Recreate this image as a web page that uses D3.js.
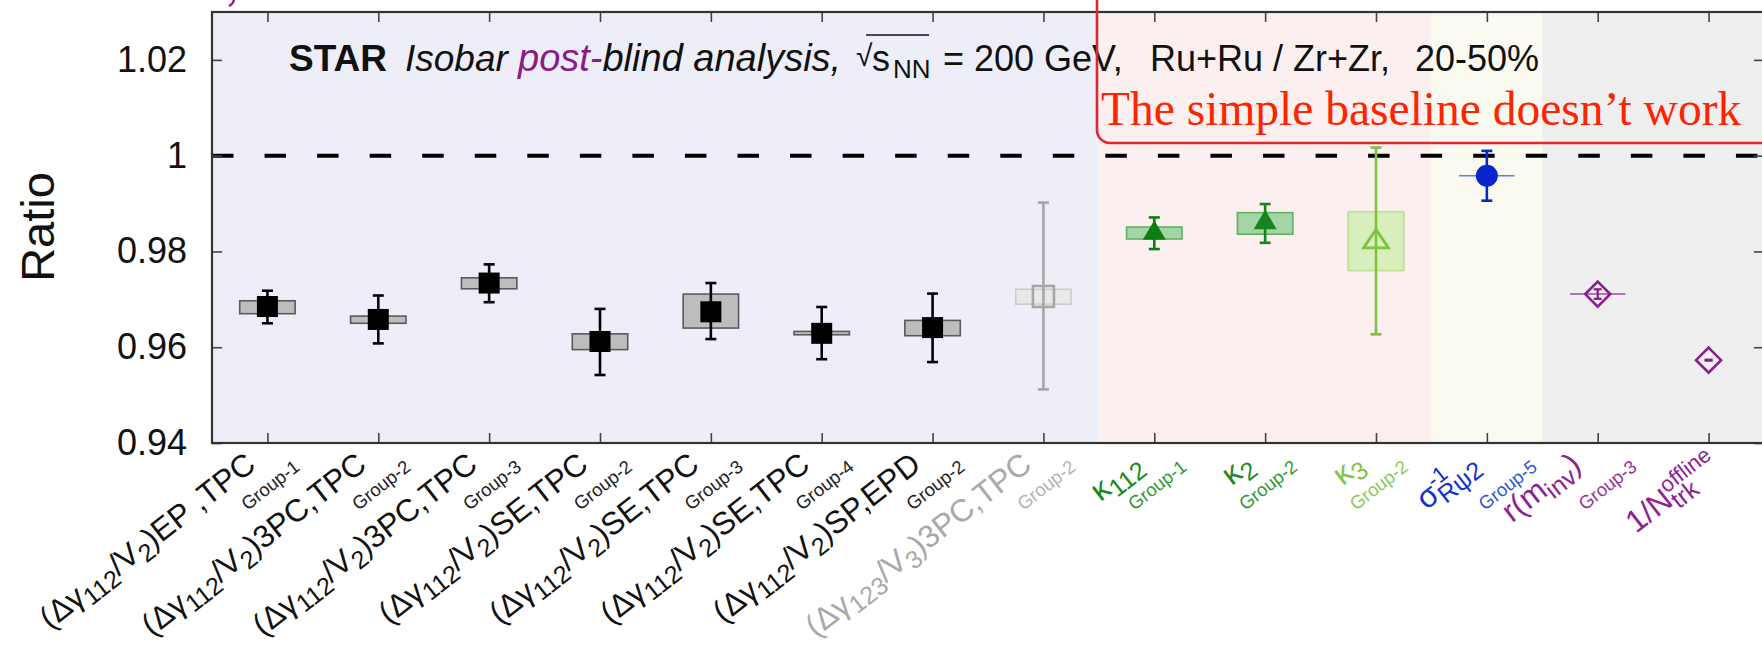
<!DOCTYPE html>
<html>
<head>
<meta charset="utf-8">
<script src="https://cdn.jsdelivr.net/npm/d3@7"></script>
<style>
  html, body { margin: 0; padding: 0; background: #fff; overflow: hidden; }
  svg { display: block; }
</style>
</head>
<body>
<svg id="chart" width="1762" height="650"></svg>
<script>
// ---- data ---------------------------------------------------------------
const categories = [
  "g112_EP_TPC_G1", "g112_3PC_TPC_G2", "g112_3PC_TPC_G3", "g112_SE_TPC_G2",
  "g112_SE_TPC_G3", "g112_SE_TPC_G4", "g112_SP_EPD_G2", "g123_3PC_TPC_G2",
  "kappa112_G1", "kappa2_G2", "kappa3_G2", "sigmaR_G5", "r_minv_G3", "inv_Ntrk"
];
const values   = [0.9685, 0.9658, 0.9734, 0.9612, 0.9674, 0.9629, 0.9641, 0.9706, 0.9838, 0.9860, 0.9821, 0.9958, 0.9711, 0.9573];
const statLow  = [0.9650, 0.9608, 0.9694, 0.9542, 0.9617, 0.9575, 0.9569, 0.9512, 0.9805, 0.9818, 0.9627, 0.9906, 0.9701, 0.9572];
const statHigh = [0.9718, 0.9708, 0.9773, 0.9680, 0.9734, 0.9684, 0.9712, 0.9902, 0.9871, 0.9899, 1.0017, 1.0010, 0.9721, 0.9574];
const sysLow   = [0.9670, 0.9650, 0.9722, 0.9595, 0.9640, 0.9626, 0.9624, 0.9690, 0.9826, 0.9836, 0.9760, 0.9958, 0.9711, null];
const sysHigh  = [0.9697, 0.9665, 0.9745, 0.9628, 0.9711, 0.9633, 0.9656, 0.9721, 0.9851, 0.9881, 0.9883, 0.9958, 0.9711, null];

const yTicks      = [0.94, 0.96, 0.98, 1.00, 1.02];
const yTickLabels = ["0.94", "0.96", "0.98", "1", "1.02"];

// tick label pieces: [text, kind]; "*" = stacked on the previous piece
const labelParts = [
  [["(Δγ", ""], ["112", "sub"], ["/V", ""], ["2", "sub"], [")EP ,TPC", ""]],
  [["(Δγ", ""], ["112", "sub"], ["/V", ""], ["2", "sub"], [")3PC,TPC", ""]],
  [["(Δγ", ""], ["112", "sub"], ["/V", ""], ["2", "sub"], [")3PC,TPC", ""]],
  [["(Δγ", ""], ["112", "sub"], ["/V", ""], ["2", "sub"], [")SE,TPC", ""]],
  [["(Δγ", ""], ["112", "sub"], ["/V", ""], ["2", "sub"], [")SE,TPC", ""]],
  [["(Δγ", ""], ["112", "sub"], ["/V", ""], ["2", "sub"], [")SE,TPC", ""]],
  [["(Δγ", ""], ["112", "sub"], ["/V", ""], ["2", "sub"], [")SP,EPD", ""]],
  [["(Δγ", ""], ["123", "sub"], ["/V", ""], ["3", "sub"], [")3PC,TPC", ""]],
  [["κ", ""], ["112", "sub"]],
  [["κ", ""], ["2", "sub"]],
  [["κ", ""], ["3", "sub"]],
  [["σ", ""], ["-1", "sup"], ["Rψ2", "sub*"]],
  [["r(m", ""], ["inv", "sub"], [")", ""]],
  [["1/N", ""], ["trk", "sub"], ["offline", "sup*"]]
];
const groupTags = ["Group-1", "Group-2", "Group-3", "Group-2", "Group-3", "Group-4", "Group-2",
                   "Group-2", "Group-1", "Group-2", "Group-2", "Group-5", "Group-3", ""];

// background bands (in category units)
const bandStart  = [-0.5, 7.5, 10.5, 11.5];
const bandEnd    = [7.5, 10.5, 11.5, 13.5];
const bandColors = ["#eeeef9", "#fcefef", "#fafaf1", "#efefef"];

// ---- styles -------------------------------------------------------------
const markerShape = ["square", "square", "square", "square", "square", "square", "square",
                     "openSquare", "triangle", "triangle", "openTriangle", "circle", "openDiamond", "openDiamond"];
const markerColor = ["#000", "#000", "#000", "#000", "#000", "#000", "#000",
                     "#a6a6a6", "#0b7d12", "#17851d", "#7fc241", "#0a24cc", "#8a1c8c", "#8a1c8c"];
const boxFill   = ["#bdbdbd", "#bdbdbd", "#bdbdbd", "#bdbdbd", "#bdbdbd", "#bdbdbd", "#bdbdbd",
                   "#e8e8e8", "#a4d5a4", "#a4d5a4", "#d8eebd", null, null, null];
const boxStroke = ["#5a5a5a", "#5a5a5a", "#5a5a5a", "#5a5a5a", "#5a5a5a", "#5a5a5a", "#5a5a5a",
                   "#cdcdcd", "#62b062", "#62b062", "#bbdf95", "#5d7de0", "#a54aa5", null];
const labelColor = ["#111", "#111", "#111", "#111", "#111", "#111", "#111",
                    "#a9a9a9", "#158a18", "#1f8a25", "#82c346", "#1233cf", "#8e2390", "#8e2390"];
const tagColor   = ["#222", "#222", "#222", "#222", "#222", "#222", "#222",
                    "#b3b3b3", "#2e9a33", "#2e9a33", "#8dc957", "#2f56d8", "#97339a", "#97339a"];

const sans  = "'Liberation Sans', Arial, Helvetica, sans-serif";
const serif = "'Liberation Serif', 'Times New Roman', Times, serif";

// ---- scales ------------------------------------------------------------
const svg = d3.select("#chart");
const x = d3.scaleLinear().domain([-0.5, 13.5]).range([212, 1764]);
const y = d3.scaleLinear().domain([0.94, 1.03]).range([443, 12]);
const halfBox = x(0.25) - x(0);

// ---- background bands -------------------------------------------------
svg.append("g").selectAll("rect")
  .data(bandStart)
  .join("rect")
  .attr("x", (d) => x(d))
  .attr("width", (d, i) => x(bandEnd[i]) - x(d))
  .attr("y", y(1.03))
  .attr("height", y(0.94) - y(1.03))
  .attr("fill", (d, i) => bandColors[i]);

// ---- reference line at unity ------------------------------------------
svg.append("line")
  .attr("x1", x(-0.5)).attr("x2", x(13.5))
  .attr("y1", y(1)).attr("y2", y(1))
  .attr("stroke", "#000").attr("stroke-width", 4)
  .attr("stroke-dasharray", "21.5 31.05");

// ---- axes (ticks on all four sides, pointing inward) ------------------
function styleAxis(g) {
  g.select(".domain").remove();
  g.selectAll(".tick line").attr("stroke", "#444").attr("stroke-width", 1.6);
}
const catIdx = d3.range(categories.length);
svg.append("g").attr("transform", `translate(0,${y(0.94)})`)
  .call(d3.axisBottom(x).tickValues(catIdx).tickSize(-10).tickSizeOuter(0).tickFormat(""))
  .call(styleAxis);
svg.append("g").attr("transform", `translate(0,${y(1.03)})`)
  .call(d3.axisTop(x).tickValues(catIdx).tickSize(-10).tickSizeOuter(0).tickFormat(""))
  .call(styleAxis);
svg.append("g").attr("transform", `translate(${x(-0.5)},0)`)
  .call(d3.axisLeft(y).tickValues(yTicks).tickSize(-10).tickSizeOuter(0).tickPadding(25)
        .tickFormat((d, i) => yTickLabels[i]))
  .call(styleAxis)
  .call((g) => g.selectAll(".tick text")
        .attr("font-family", sans).attr("font-size", 36).attr("fill", "#111"));
svg.append("g").attr("transform", `translate(${x(13.5)},0)`)
  .call(d3.axisRight(y).tickValues(yTicks).tickSize(-10).tickSizeOuter(0).tickFormat(""))
  .call(styleAxis);

// frame
svg.append("rect")
  .attr("x", x(-0.5)).attr("y", y(1.03))
  .attr("width", x(13.5) - x(-0.5)).attr("height", y(0.94) - y(1.03))
  .attr("fill", "none").attr("stroke", "#333").attr("stroke-width", 2.2);

// y-axis title
svg.append("text")
  .attr("transform", `translate(54,227) rotate(-90)`)
  .attr("text-anchor", "middle")
  .attr("font-family", sans).attr("font-size", 47).attr("fill", "#111")
  .text("Ratio");

// ---- systematic boxes -------------------------------------------------
const plot = svg.append("g");
catIdx.forEach((i) => {
  if (sysLow[i] === null) return;
  if (boxFill[i]) {
    plot.append("rect")
      .attr("x", x(i) - halfBox).attr("width", 2 * halfBox)
      .attr("y", y(sysHigh[i])).attr("height", Math.max(1.5, y(sysLow[i]) - y(sysHigh[i])))
      .attr("fill", boxFill[i]).attr("stroke", boxStroke[i]).attr("stroke-width", 1.6);
  } else {
    plot.append("line")
      .attr("x1", x(i) - halfBox).attr("x2", x(i) + halfBox)
      .attr("y1", y(values[i])).attr("y2", y(values[i]))
      .attr("stroke", boxStroke[i]).attr("stroke-width", 1.6);
  }
});

// ---- statistical error bars ------------------------------------------
catIdx.forEach((i) => {
  const c = markerColor[i];
  const capW = i >= 12 ? 4 : 5.5;
  const g = plot.append("g").attr("stroke", c).attr("stroke-width", i >= 12 ? 2.2 : 2.6);
  g.append("line").attr("x1", x(i)).attr("x2", x(i)).attr("y1", y(statLow[i])).attr("y2", y(statHigh[i]));
  [statLow[i], statHigh[i]].forEach((v) => {
    g.append("line").attr("x1", x(i) - capW).attr("x2", x(i) + capW).attr("y1", y(v)).attr("y2", y(v));
  });
});

// ---- markers ----------------------------------------------------------
catIdx.forEach((i) => {
  const cx = x(i), cy = y(values[i]), c = markerColor[i];
  switch (markerShape[i]) {
    case "square":
      plot.append("rect").attr("x", cx - 10.5).attr("y", cy - 10.5)
        .attr("width", 21).attr("height", 21).attr("fill", c);
      break;
    case "openSquare":
      plot.append("rect").attr("x", cx - 10.5).attr("y", cy - 10.5)
        .attr("width", 21).attr("height", 21)
        .attr("fill", "none").attr("stroke", c).attr("stroke-width", 2.6);
      break;
    case "triangle":
      plot.append("path")
        .attr("d", `M${cx},${cy - 13}L${cx + 11.5},${cy + 6.5}L${cx - 11.5},${cy + 6.5}Z`)
        .attr("fill", c);
      break;
    case "openTriangle":
      plot.append("path")
        .attr("d", `M${cx},${cy - 12}L${cx + 12.5},${cy + 6.5}L${cx - 12.5},${cy + 6.5}Z`)
        .attr("fill", "none").attr("stroke", c).attr("stroke-width", 2.8).attr("stroke-linejoin", "miter");
      break;
    case "circle":
      plot.append("circle").attr("cx", cx).attr("cy", cy).attr("r", 11).attr("fill", c);
      break;
    case "openDiamond":
      plot.append("path")
        .attr("d", `M${cx},${cy - 12.5}L${cx + 12.5},${cy}L${cx},${cy + 12.5}L${cx - 12.5},${cy}Z`)
        .attr("fill", "none").attr("stroke", c).attr("stroke-width", 2.6);
      break;
  }
});

// ---- category labels (rotated) ----------------------------------------
const labelAngle = -38;
// per-label horizontal nudges (screen px) of the main text end and of the group tag
const mainNudge = [0, 0, 0, 0, 0, 0, 0, 0, 0, 0, 0, 4, -5, 22];
const tagNudge  = [0, 0, 0, 0, 0, 0, 0, 0, 0, 0, 0, 18, 7, 0];
const labels = svg.append("g").attr("font-family", sans);
catIdx.forEach((i) => {
  const t = labels.append("text")
    .attr("transform", `translate(${x(i) - 10 + mainNudge[i]},468) rotate(${labelAngle})`)
    .attr("text-anchor", "end").attr("fill", labelColor[i]);
  let shift = 0, prevLen = 0;
  labelParts[i].forEach(([txt, kind]) => {
    let target = 0, size = 31.5;
    if (kind.startsWith("sub")) { target = 7; size = 25; }
    if (kind.startsWith("sup")) { target = -13; size = 22; }
    const ts = t.append("tspan").text(txt).attr("font-size", size).attr("dy", target - shift);
    shift = target;
    if (kind.endsWith("*")) ts.attr("dx", -prevLen);
    prevLen = ts.node().getComputedTextLength();
  });
  if (groupTags[i]) {
    labels.append("text")
      .attr("transform", `translate(${x(i) - 20 + tagNudge[i]},511) rotate(${labelAngle})`)
      .attr("font-size", 18.5).attr("fill", tagColor[i])
      .text(groupTags[i]);
  }
});

// ---- header line ------------------------------------------------------
const head = svg.append("text")
  .attr("y", 71).attr("font-family", sans).attr("font-size", 36).attr("fill", "#111");
head.append("tspan").attr("x", 289).attr("font-weight", "bold").attr("font-size", 37).text("STAR");
head.append("tspan").attr("x", 405).attr("font-style", "italic").attr("font-size", 37).text("Isobar");
head.append("tspan").attr("x", 518).attr("font-style", "italic").attr("font-size", 38).attr("fill", "#8b1a8b").text("post-");
head.append("tspan").attr("font-style", "italic").attr("font-size", 38).text("blind analysis,");
head.append("tspan").attr("x", 856).attr("font-size", 30).attr("y", 66).text("√");
head.append("tspan").attr("x", 872).attr("y", 71).text("s");
head.append("tspan").attr("x", 893).attr("y", 78).attr("font-size", 26).text("NN");
head.append("tspan").attr("x", 943).attr("y", 71).text("= 200 GeV,");
head.append("tspan").attr("x", 1150).text("Ru+Ru / Zr+Zr,");
head.append("tspan").attr("x", 1415).text("20-50%");
svg.append("line")
  .attr("x1", 866).attr("x2", 929).attr("y1", 35).attr("y2", 35)
  .attr("stroke", "#111").attr("stroke-width", 1.6);

// small curved stroke peeking in at the top edge
svg.append("path")
  .attr("d", "M234,-4 Q235,3 229,6")
  .attr("fill", "none").attr("stroke", "#8b1a8b").attr("stroke-width", 2.2);

// ---- callout box ------------------------------------------------------
const bx = 1097, by = 143, rr = 13;
const p = d3.path();
p.moveTo(bx, -10);
p.lineTo(bx, by - rr);
p.arcTo(bx, by, bx + rr, by, rr);
p.lineTo(1800, by);
svg.append("path").attr("d", p.toString())
  .attr("fill", "none").attr("stroke", "#e0262f").attr("stroke-width", 2.6);

svg.append("text")
  .attr("x", 1101).attr("y", 125)
  .attr("font-family", serif).attr("font-size", 47.5).attr("fill", "#ff2400")
  .text("The simple baseline doesn’t work");
</script>
</body>
</html>
